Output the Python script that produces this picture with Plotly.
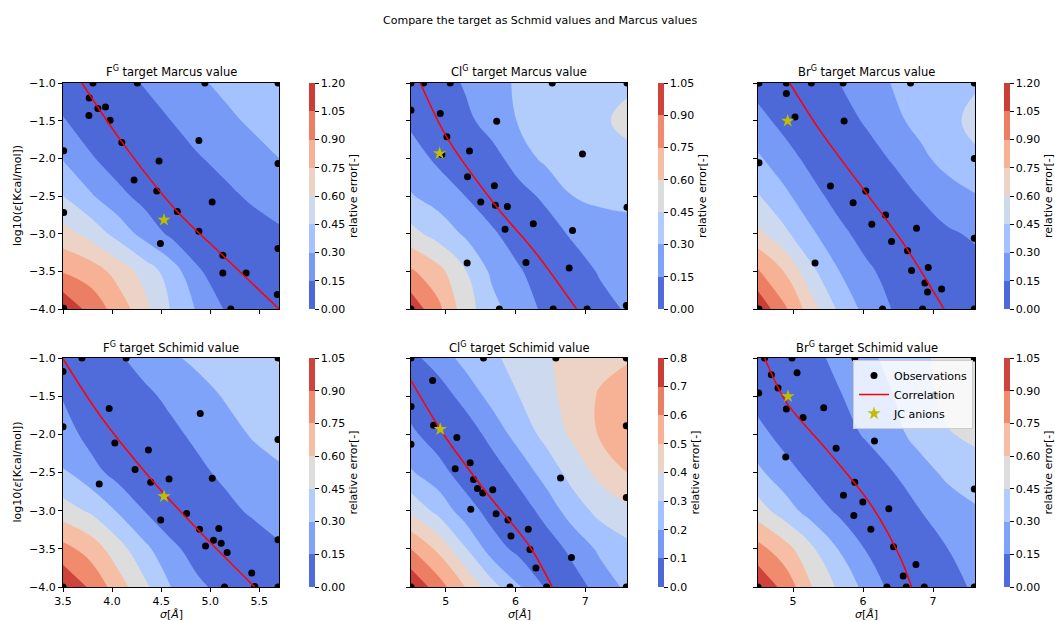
import plotly.graph_objects as go

# ---------------- data ----------------
Y_GRID = [-1.0, -1.5, -2.0, -2.5, -3.0, -3.5, -4.0]
X_GRID_F = [3.5, 3.775, 4.05, 4.325, 4.6, 4.875, 5.15, 5.425, 5.7]
X_GRID_CB = [4.5, 4.8875, 5.275, 5.6625, 6.05, 6.4375, 6.825, 7.2125, 7.6]

# relative error fields, rows from log10(eps) = -1.0 (top) down to -4.0
ERR_F_MARCUS = [
    [0.08, 0.04, 0.09, 0.16, 0.22, 0.28, 0.33, 0.38, 0.42],
    [0.16, 0.06, 0.04, 0.09, 0.15, 0.21, 0.27, 0.32, 0.36],
    [0.29, 0.17, 0.07, 0.04, 0.08, 0.14, 0.19, 0.25, 0.30],
    [0.45, 0.32, 0.20, 0.10, 0.03, 0.06, 0.12, 0.17, 0.21],
    [0.66, 0.55, 0.40, 0.25, 0.12, 0.03, 0.05, 0.09, 0.13],
    [0.89, 0.83, 0.70, 0.54, 0.38, 0.17, 0.05, 0.02, 0.05],
    [1.18, 1.00, 0.84, 0.66, 0.44, 0.28, 0.14, 0.06, 0.02],
]
ERR_CL_MARCUS = [
    [0.06, 0.05, 0.17, 0.25, 0.32, 0.36, 0.39, 0.41, 0.43],
    [0.12, 0.03, 0.10, 0.23, 0.31, 0.36, 0.40, 0.43, 0.48],
    [0.22, 0.12, 0.03, 0.08, 0.24, 0.33, 0.37, 0.40, 0.42],
    [0.31, 0.24, 0.15, 0.03, 0.08, 0.19, 0.30, 0.33, 0.33],
    [0.50, 0.39, 0.28, 0.18, 0.05, 0.06, 0.18, 0.23, 0.26],
    [0.77, 0.65, 0.46, 0.27, 0.17, 0.04, 0.05, 0.17, 0.21],
    [1.00, 0.79, 0.52, 0.35, 0.22, 0.12, 0.03, 0.08, 0.17],
]
ERR_BR_MARCUS = [
    [0.09, 0.03, 0.07, 0.15, 0.23, 0.31, 0.35, 0.39, 0.43],
    [0.20, 0.10, 0.03, 0.08, 0.17, 0.27, 0.34, 0.40, 0.50],
    [0.32, 0.21, 0.10, 0.03, 0.08, 0.17, 0.27, 0.35, 0.42],
    [0.46, 0.33, 0.20, 0.09, 0.03, 0.07, 0.16, 0.24, 0.29],
    [0.64, 0.48, 0.32, 0.19, 0.09, 0.03, 0.07, 0.13, 0.17],
    [0.92, 0.74, 0.48, 0.30, 0.18, 0.09, 0.03, 0.05, 0.10],
    [1.17, 0.92, 0.66, 0.42, 0.25, 0.14, 0.06, 0.03, 0.06],
]
ERR_F_SCHIMID = [
    [0.04, 0.08, 0.13, 0.20, 0.28, 0.33, 0.37, 0.41, 0.46],
    [0.14, 0.04, 0.05, 0.12, 0.18, 0.25, 0.31, 0.36, 0.40],
    [0.22, 0.10, 0.03, 0.06, 0.12, 0.18, 0.25, 0.31, 0.35],
    [0.31, 0.21, 0.10, 0.03, 0.06, 0.12, 0.18, 0.24, 0.28],
    [0.52, 0.43, 0.29, 0.15, 0.04, 0.05, 0.11, 0.17, 0.22],
    [0.80, 0.69, 0.52, 0.34, 0.19, 0.08, 0.03, 0.07, 0.13],
    [1.04, 0.88, 0.68, 0.49, 0.30, 0.18, 0.10, 0.04, 0.06],
]
ERR_CL_SCHIMID = [
    [0.07, 0.15, 0.23, 0.28, 0.34, 0.39, 0.43, 0.47, 0.49],
    [0.05, 0.04, 0.14, 0.23, 0.30, 0.37, 0.44, 0.51, 0.55],
    [0.12, 0.05, 0.03, 0.14, 0.24, 0.33, 0.42, 0.51, 0.57],
    [0.21, 0.14, 0.05, 0.04, 0.14, 0.24, 0.34, 0.43, 0.50],
    [0.38, 0.27, 0.15, 0.06, 0.04, 0.14, 0.25, 0.33, 0.38],
    [0.60, 0.48, 0.31, 0.15, 0.07, 0.04, 0.13, 0.22, 0.27],
    [0.79, 0.65, 0.50, 0.34, 0.21, 0.09, 0.05, 0.14, 0.22],
]
ERR_BR_SCHIMID = [
    [0.04, 0.05, 0.11, 0.19, 0.27, 0.34, 0.42, 0.50, 0.53],
    [0.09, 0.03, 0.07, 0.14, 0.22, 0.30, 0.40, 0.49, 0.53],
    [0.20, 0.09, 0.03, 0.08, 0.17, 0.26, 0.35, 0.44, 0.48],
    [0.33, 0.21, 0.10, 0.04, 0.06, 0.15, 0.25, 0.33, 0.39],
    [0.52, 0.37, 0.23, 0.12, 0.04, 0.07, 0.15, 0.23, 0.28],
    [0.80, 0.66, 0.47, 0.29, 0.14, 0.04, 0.07, 0.15, 0.20],
    [1.03, 0.85, 0.60, 0.42, 0.25, 0.10, 0.04, 0.10, 0.17],
]

# observations (sigma, log10 eps)
OBS_F_MARCUS_X = [3.805, 4.258, 4.945, 5.69, 3.767, 3.764, 3.855, 3.933, 3.98, 4.099, 4.884, 3.507, 4.478, 5.69,
                  4.224, 4.455, 5.019, 4.664, 3.507, 4.884, 4.492, 5.128, 5.69, 5.128, 5.365, 5.683, 5.209, 3.507]
OBS_F_MARCUS_Y = [-1.0, -1.0, -1.0, -1.0, -1.2, -1.432, -1.34, -1.318, -1.494, -1.79, -1.763, -1.9, -2.037, -2.07,
                  -2.288, -2.434, -2.579, -2.707, -2.72, -2.967, -3.13, -3.285, -3.197, -3.523, -3.523, -3.806, -4.0, -3.99]
OBS_CL_MARCUS_X = [4.5, 4.681, 5.063, 6.527, 7.6, 4.5, 4.92, 5.73, 5.015, 5.339, 4.943, 6.961, 5.311, 5.697, 5.501,
                   5.711, 5.883, 6.255, 5.85, 6.818, 7.6, 5.306, 6.15, 6.77, 4.5, 5.768, 6.541, 7.027, 7.59]
OBS_CL_MARCUS_Y = [-1.0, -1.0, -1.0, -1.0, -1.0, -1.362, -1.406, -1.507, -1.715, -1.904, -1.948, -1.944, -2.244,
                   -2.363, -2.579, -2.623, -2.641, -2.87, -2.941, -2.959, -2.65, -3.391, -3.382, -3.457, -4.0, -4.0,
                   -4.0, -4.0, -3.955]
OBS_BR_MARCUS_X = [4.514, 4.905, 5.263, 5.716, 6.679, 7.59, 4.905, 5.029, 5.73, 4.514, 7.59, 5.535, 6.04, 5.859,
                   6.322, 6.126, 6.765, 6.408, 6.636, 7.59, 5.315, 6.694, 6.932, 6.884, 6.922, 7.123, 4.514, 6.279,
                   6.851, 7.59]
OBS_BR_MARCUS_Y = [-1.0, -1.0, -1.0, -1.0, -1.0, -1.0, -1.141, -1.45, -1.503, -2.059, -2.001, -2.367, -2.434, -2.588,
                   -2.751, -2.875, -2.928, -3.104, -3.228, -3.06, -3.391, -3.488, -3.448, -3.656, -3.775, -3.735, -4.0,
                   -4.0, -4.0, -4.0]
OBS_F_SCHIMID_X = [3.5, 3.693, 4.143, 5.69, 3.5, 3.97, 4.898, 4.028, 4.37, 4.234, 4.393, 4.58, 3.869, 5.02, 5.69,
                   4.759, 4.495, 4.891, 5.087, 5.033, 4.952, 5.111, 5.172, 5.69, 5.422, 5.453, 5.145, 5.69, 3.5]
OBS_F_SCHIMID_Y = [-1.176, -1.0, -1.0, -1.0, -1.902, -1.66, -1.726, -2.113, -2.205, -2.461, -2.628, -2.584, -2.65,
                   -2.575, -2.069, -3.037, -3.121, -3.244, -3.235, -3.389, -3.464, -3.428, -3.547, -3.38, -3.816,
                   -3.992, -4.0, -4.0, -4.0]
OBS_CL_SCHIMID_X = [4.5, 5.54, 6.579, 7.59, 4.81, 4.5, 4.824, 4.5, 5.158, 5.349, 5.134, 5.397, 5.454, 5.53, 5.673,
                    6.646, 7.59, 7.59, 5.358, 5.721, 5.892, 6.183, 5.935, 6.207, 6.803, 6.293, 4.5, 5.921, 6.446, 7.59]
OBS_CL_SCHIMID_Y = [-1.0, -1.0, -1.0, -1.0, -1.295, -1.634, -1.88, -2.131, -2.043, -2.373, -2.452, -2.593, -2.711,
                    -2.769, -2.725, -2.571, -1.889, -2.826, -2.98, -3.041, -3.121, -3.244, -3.332, -3.508, -3.613,
                    -3.75, -4.0, -4.0, -4.0, -4.0]
OBS_BR_SCHIMID_X = [4.595, 4.986, 5.883, 7.59, 4.691, 5.058, 4.786, 4.51, 4.905, 5.439, 5.144, 6.164, 5.616, 4.896,
                    5.883, 5.721, 5.997, 6.369, 5.869, 6.112, 6.436, 7.59, 6.756, 6.574, 6.341, 6.617, 6.875, 7.59,
                    4.5, 7.027]
OBS_BR_SCHIMID_Y = [-1.0, -1.0, -1.0, -1.0, -1.22, -1.194, -1.393, -1.458, -1.669, -1.651, -1.779, -2.087, -2.183,
                    -2.298, -2.628, -2.799, -2.887, -2.975, -3.063, -3.244, -3.473, -2.716, -3.706, -3.855, -4.0,
                    -4.0, -4.0, -4.0, -4.0, -1.484]

# correlation curves
CORR_F_MARCUS_X = [3.693, 4.099, 4.664, 5.128, 5.70]
CORR_F_MARCUS_Y = [-1.0, -1.781, -2.707, -3.289, -4.0]
CORR_CL_MARCUS_X = [4.634, 5.015, 5.711, 6.303, 6.875]
CORR_CL_MARCUS_Y = [-1.0, -1.723, -2.623, -3.27, -4.0]
CORR_BR_MARCUS_X = [4.953, 5.382, 6.05, 6.574, 7.156]
CORR_BR_MARCUS_Y = [-1.0, -1.626, -2.465, -3.126, -4.0]
CORR_F_SCHIMID_X = [3.5, 3.879, 4.387, 4.827, 5.453]
CORR_F_SCHIMID_Y = [-1.01, -1.757, -2.571, -3.187, -4.0]
CORR_CL_SCHIMID_X = [4.5, 4.967, 5.587, 6.207, 6.527]
CORR_CL_SCHIMID_Y = [-1.295, -1.999, -2.769, -3.473, -4.0]
CORR_BR_SCHIMID_X = [4.595, 4.905, 5.478, 6.097, 6.527, 6.694]
CORR_BR_SCHIMID_Y = [-1.0, -1.581, -2.197, -2.901, -3.604, -4.0]

# JC anion parameters
JC_X = [4.529, 4.91, 4.924, 4.529, 4.92, 4.929]
JC_Y = [-2.817, -1.935, -1.503, -2.813, -1.933, -1.502]

# colour levels (max, step, label decimals) per panel
LEVEL_MAX = [1.20, 1.05, 1.20, 1.05, 0.80, 1.05]
LEVEL_STEP = [0.15, 0.15, 0.15, 0.15, 0.10, 0.15]
LEVEL_DEC = [2, 2, 2, 2, 1, 2]

TITLES = ["F<sup>G</sup> target Marcus value", "Cl<sup>G</sup> target Marcus value",
          "Br<sup>G</sup> target Marcus value", "F<sup>G</sup> target Schimid value",
          "Cl<sup>G</sup> target Schimid value", "Br<sup>G</sup> target Schimid value"]
X_TICKS_F = [3.5, 4.0, 4.5, 5.0, 5.5]
X_TICKS_CB = [5, 6, 7]
Y_TICKS = [-1.0, -1.5, -2.0, -2.5, -3.0, -3.5, -4.0]

# ---------------- style ----------------
W, H = 1055, 621
FONT = "DejaVu Sans"
MINUS = "\u2212"

# matplotlib "coolwarm" colormap anchors
CW = [(59, 76, 192), (68, 90, 204), (77, 104, 215), (87, 117, 225), (98, 130, 234), (108, 142, 241),
      (119, 154, 247), (130, 165, 251), (141, 176, 254), (152, 185, 255), (163, 194, 255), (174, 201, 253),
      (184, 208, 249), (194, 213, 244), (204, 217, 238), (213, 219, 230), (221, 221, 221), (229, 216, 209),
      (236, 211, 197), (241, 204, 184), (245, 196, 172), (247, 187, 160), (247, 177, 148), (247, 166, 137),
      (244, 154, 123), (241, 141, 111), (236, 127, 99), (229, 112, 88), (222, 96, 77), (213, 80, 66),
      (203, 62, 56), (192, 40, 47), (180, 4, 38)]


def coolwarm(t):
    p = t * (len(CW) - 1)
    i = min(int(p), len(CW) - 2)
    f = p - i
    c = [CW[i][k] + (CW[i + 1][k] - CW[i][k]) * f for k in range(3)]
    return "rgb(%d,%d,%d)" % tuple(round(v) for v in c)


def fmt_num(v, dec):
    s = ("{:.%df}" % dec).format(abs(v))
    return (MINUS + s) if v < 0 else s


def px_x(v):
    return v / W


def px_y(v):
    return 1 - v / H


COL_X = [(63, 279), (411, 627), (758, 975)]
ROW_Y = [(83, 309), (358, 587)]
CBAR_X = [309, 658, 1004]

panels = [
    (ERR_F_MARCUS, X_GRID_F, OBS_F_MARCUS_X, OBS_F_MARCUS_Y, CORR_F_MARCUS_X, CORR_F_MARCUS_Y, "F"),
    (ERR_CL_MARCUS, X_GRID_CB, OBS_CL_MARCUS_X, OBS_CL_MARCUS_Y, CORR_CL_MARCUS_X, CORR_CL_MARCUS_Y, "CB"),
    (ERR_BR_MARCUS, X_GRID_CB, OBS_BR_MARCUS_X, OBS_BR_MARCUS_Y, CORR_BR_MARCUS_X, CORR_BR_MARCUS_Y, "CB"),
    (ERR_F_SCHIMID, X_GRID_F, OBS_F_SCHIMID_X, OBS_F_SCHIMID_Y, CORR_F_SCHIMID_X, CORR_F_SCHIMID_Y, "F"),
    (ERR_CL_SCHIMID, X_GRID_CB, OBS_CL_SCHIMID_X, OBS_CL_SCHIMID_Y, CORR_CL_SCHIMID_X, CORR_CL_SCHIMID_Y, "CB"),
    (ERR_BR_SCHIMID, X_GRID_CB, OBS_BR_SCHIMID_X, OBS_BR_SCHIMID_Y, CORR_BR_SCHIMID_X, CORR_BR_SCHIMID_Y, "CB"),
]

fig = go.Figure()
annotations = []
layout_axes = {}

for idx, (z, xg, ox, oy, cx, cy, kind) in enumerate(panels):
    r, c = divmod(idx, 3)
    n = idx + 1
    xa = "x" if n == 1 else "x%d" % n
    ya = "y" if n == 1 else "y%d" % n
    x0, x1 = COL_X[c]
    yt, yb = ROW_Y[r]
    xrange_ = [3.5, 5.7] if kind == "F" else [4.5, 7.6]

    lmax, step, dec = LEVEL_MAX[idx], LEVEL_STEP[idx], LEVEL_DEC[idx]
    nb = int(round(lmax / step))
    levels = [round(k * step, 4) for k in range(nb + 1)]
    cs = []
    for k in range(nb):
        col = coolwarm((k + 0.5) / nb)
        cs.append([k / nb, col])
        cs.append([(k + 1) / nb, col])

    fig.add_trace(go.Contour(
        x=xg, y=Y_GRID[::-1], z=z[::-1], xaxis=xa, yaxis=ya,
        autocontour=False,
        contours=dict(start=0, end=lmax, size=step, coloring="fill", showlines=False),
        colorscale=cs, line=dict(width=0, smoothing=1.3), showscale=False,
        hoverinfo="skip", showlegend=False,
    ))
    # colour bar (carried by an off-axis marker trace so that it spans exactly the level range)
    fig.add_trace(go.Scatter(
        x=[xrange_[0] - 50, xrange_[0] - 50], y=[-50, -50], xaxis=xa, yaxis=ya, mode="markers",
        marker=dict(color=[0, lmax], colorscale=cs, cmin=0, cmax=lmax, size=1, showscale=True,
                    colorbar=dict(
                        x=px_x(CBAR_X[c]), xanchor="left", xpad=0, ypad=0,
                        y=px_y((yt + yb) / 2), yanchor="middle", lenmode="pixels", len=yb - yt,
                        thickness=6, outlinewidth=0,
                        tickmode="array", tickvals=levels, ticktext=[fmt_num(v, dec) for v in levels],
                        ticks="outside", ticklen=4, tickwidth=1, tickcolor="black",
                        tickfont=dict(family=FONT, size=11, color="black"),
                        title=dict(text="relative error[-]", side="right",
                                   font=dict(family=FONT, size=11, color="black")),
                    )),
        hoverinfo="skip", showlegend=False, cliponaxis=True,
    ))
    leg = (idx == 5)
    fig.add_trace(go.Scatter(
        x=ox, y=oy, xaxis=xa, yaxis=ya, mode="markers", name="Observations",
        marker=dict(color="black", size=7, line=dict(width=0)), showlegend=leg, cliponaxis=True))
    fig.add_trace(go.Scatter(
        x=cx, y=cy, xaxis=xa, yaxis=ya, mode="lines", name="Correlation",
        line=dict(color="red", width=1.5, shape="spline", smoothing=0.9), showlegend=leg))
    fig.add_trace(go.Scatter(
        x=[JC_X[idx]], y=[JC_Y[idx]], xaxis=xa, yaxis=ya, mode="markers", name="JC anions",
        marker=dict(symbol="star", color="#bfbf00", size=10, line=dict(width=0)), showlegend=leg))

    xticks = X_TICKS_F if kind == "F" else X_TICKS_CB
    common = dict(showline=True, linecolor="black", linewidth=1, mirror=True, ticks="outside", ticklen=4,
                  tickwidth=1, tickcolor="black", showgrid=False, zeroline=False,
                  tickfont=dict(family=FONT, size=11, color="black"))
    layout_axes["xaxis" if n == 1 else "xaxis%d" % n] = dict(
        common, domain=[px_x(x0), px_x(x1)], range=xrange_, anchor=ya,
        tickmode="array", tickvals=xticks,
        ticktext=[fmt_num(v, 1) if kind == "F" else str(v) for v in xticks],
        showticklabels=(r == 1))
    layout_axes["yaxis" if n == 1 else "yaxis%d" % n] = dict(
        common, domain=[px_y(yb), px_y(yt)], range=[-4.0, -1.0], anchor=xa,
        tickmode="array", tickvals=Y_TICKS, ticktext=[fmt_num(v, 1) for v in Y_TICKS],
        showticklabels=(c == 0))

    annotations.append(dict(text=TITLES[idx], x=px_x((x0 + x1) / 2), y=px_y(yt - 11), xref="paper", yref="paper",
                            showarrow=False, xanchor="center", yanchor="middle",
                            font=dict(family=FONT, size=11.5, color="black")))
    if r == 1:
        annotations.append(dict(text="<i>σ</i>[<i>Å</i>]", x=px_x((x0 + x1) / 2), y=px_y(614), xref="paper",
                                yref="paper", showarrow=False, xanchor="center", yanchor="middle",
                                font=dict(family=FONT, size=11, color="black")))
    if c == 0:
        annotations.append(dict(text="log10(<i>ε</i>[Kcal/mol])", x=px_x(17), y=px_y((yt + yb) / 2), xref="paper",
                                yref="paper", showarrow=False, textangle=-90, xanchor="center", yanchor="middle",
                                font=dict(family=FONT, size=11, color="black")))

annotations.append(dict(text="Compare the target as Schmid values and Marcus values", x=px_x(540), y=px_y(20),
                        xref="paper", yref="paper", showarrow=False, xanchor="center", yanchor="middle",
                        font=dict(family=FONT, size=11, color="black")))

fig.update_layout(
    width=W, height=H, margin=dict(l=0, r=0, t=0, b=0, autoexpand=False),
    paper_bgcolor="white", plot_bgcolor="white",
    font=dict(family=FONT, size=11, color="black"),
    annotations=annotations,
    legend=dict(x=px_x(853), y=px_y(360), xanchor="left", yanchor="top",
                bgcolor="rgba(255,255,255,0.8)", bordercolor="#cccccc", borderwidth=1,
                font=dict(family=FONT, size=11, color="black"), tracegroupgap=0),
    **layout_axes,
)

fig.write_html("out.html")
